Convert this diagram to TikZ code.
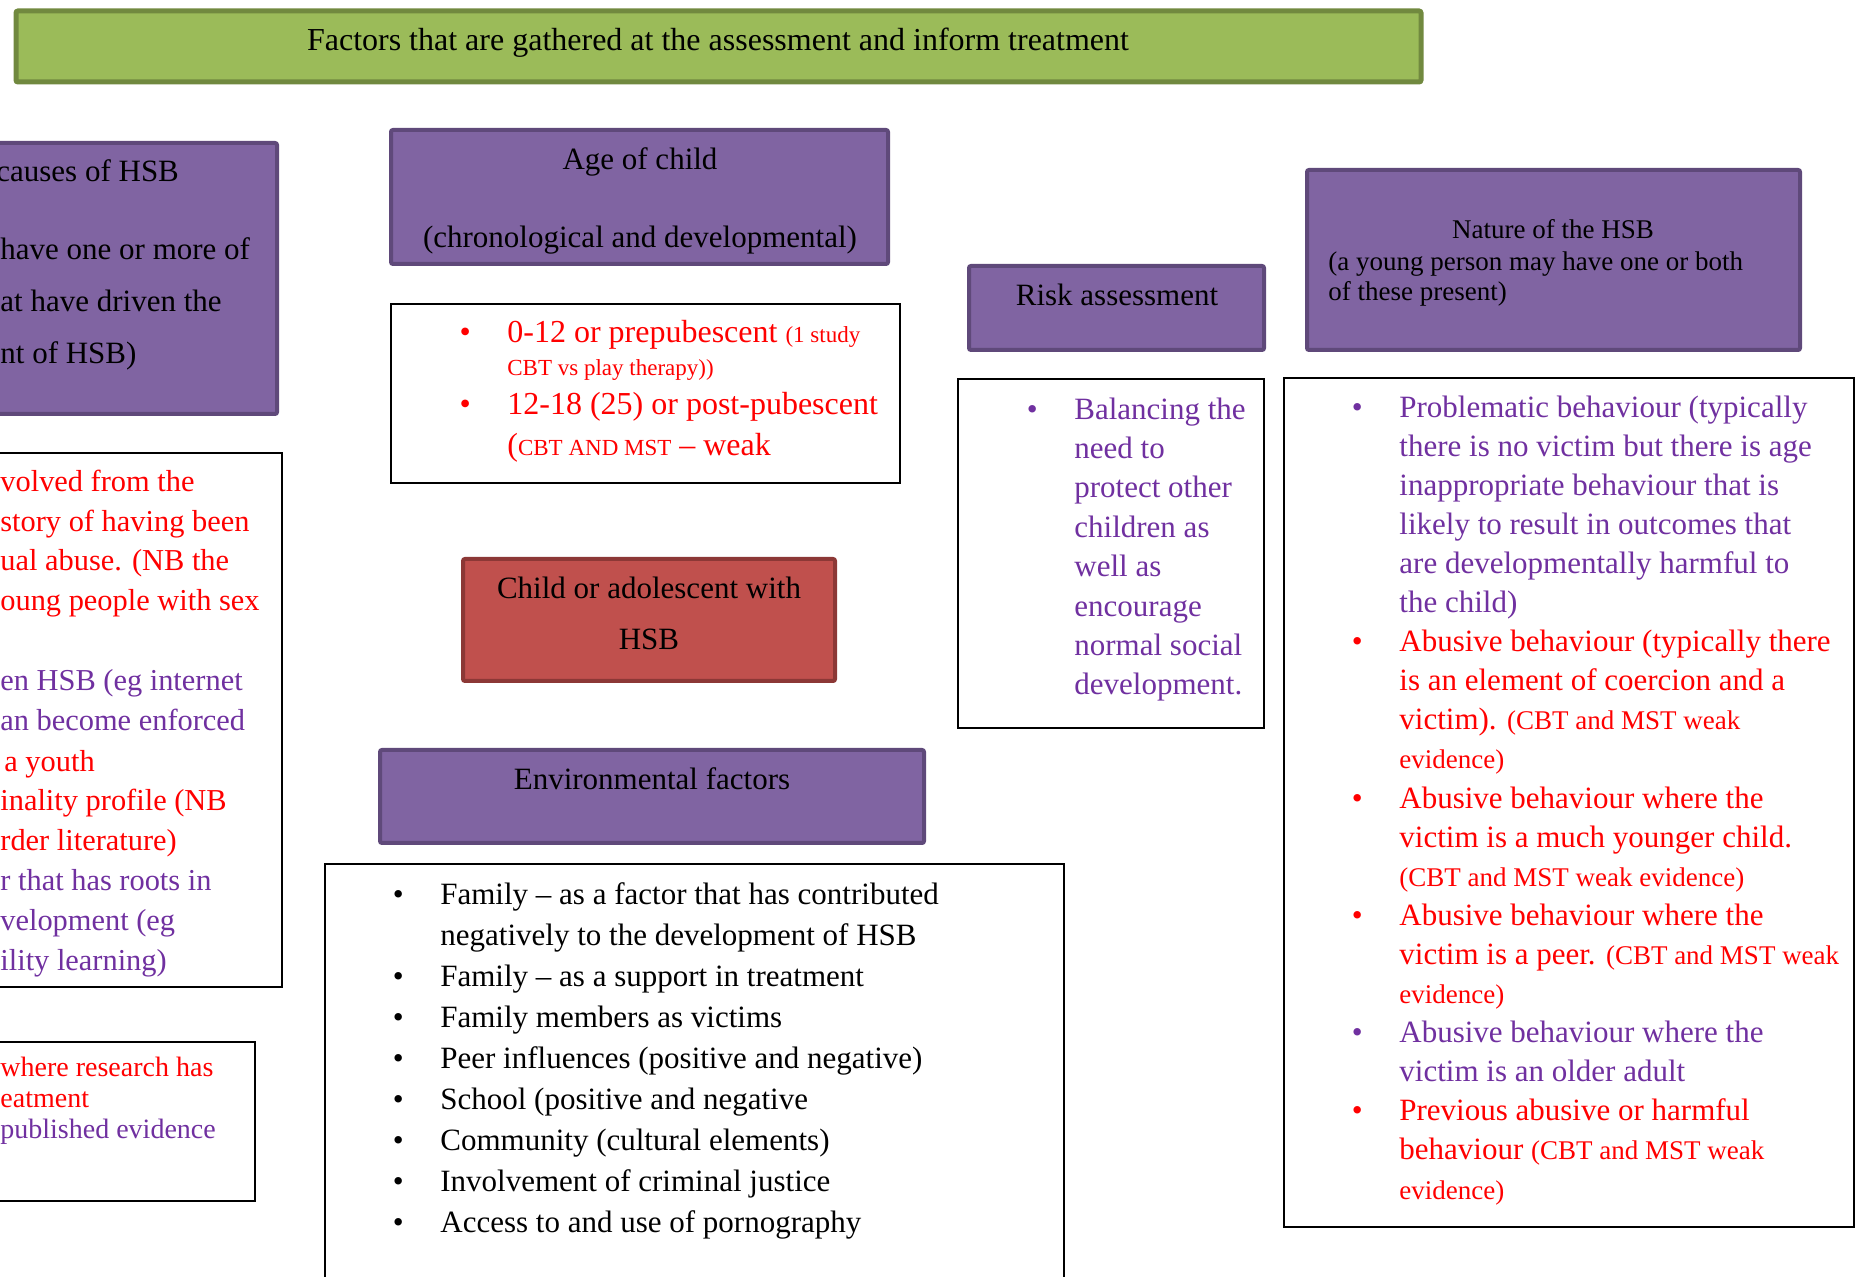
\documentclass[tikz,border=0pt]{standalone}
\usepackage{fontspec}
\setmainfont{Liberation Serif}
\usetikzlibrary{fit}

\definecolor{boxpurple}{HTML}{8064A2}
\definecolor{boxpurpleedge}{HTML}{5F497A}
\definecolor{boxgreen}{HTML}{9BBB59}
\definecolor{boxgreenedge}{HTML}{71893F}
\definecolor{boxred}{HTML}{C0504D}
\definecolor{boxrededge}{HTML}{8C3836}
\definecolor{txtred}{HTML}{FF0000}
\definecolor{txtpurple}{HTML}{7030A0}

\newcommand\bul{\llap{\textbullet\hspace{18.3pt}}}
\newcommand\rd[1]{\textcolor{txtred}{#1}}
\newcommand\pu[1]{\textcolor{txtpurple}{#1}}
\newcommand\sm[1]{{\fontsize{13.5}{16}\selectfont #1}}
\newcommand\tn[1]{{\fontsize{11.5}{14}\selectfont #1}}

\begin{document}
\begin{tikzpicture}[x=0.5pt, y=-0.5pt,
    purplebox/.style={fill=boxpurple, draw=boxpurpleedge, line width=2pt, rounded corners=1pt, inner sep=0pt},
    redbox/.style={fill=boxred, draw=boxrededge, line width=2pt, rounded corners=1pt, inner sep=0pt},
    greenbox/.style={fill=boxgreen, draw=boxgreenedge, line width=2.5pt, rounded corners=1pt, inner sep=0pt},
    whitebox/.style={fill=white, draw=black, line width=1pt, inner sep=0pt},
    txt/.style={inner sep=0pt, align=left, font=\fontsize{15.5}{19.6}\selectfont},
  ]
  \useasboundingbox (0,0) rectangle (1859,1277);
  \clip (0,0) rectangle (1859,1277);

  % boxes
  \node[greenbox, fit={(16,11) (1421,82)}] (titlebox) {};
  \node[purplebox, fit={(-40,143) (277,414)}] (causesbox) {};
  \node[whitebox, fit={(-40,453) (282,987)}] (causeslist) {};
  \node[whitebox, fit={(-40,1042) (255,1201)}] (keybox) {};
  \node[purplebox, fit={(391,130) (888,264)}] (agebox) {};
  \node[whitebox, fit={(391,304) (900,483)}] (agelistbox) {};
  \node[redbox, fit={(463,559) (835,681)}] (childbox) {};
  \node[purplebox, fit={(380,750) (924,843)}] (envbox) {};
  \node[whitebox, fit={(325,864) (1064,1300)}] (envlistbox) {};
  \node[purplebox, fit={(969,266) (1264,350)}] (riskbox) {};
  \node[whitebox, fit={(958,379) (1264,728)}] (risklistbox) {};
  \node[purplebox, fit={(1307,170) (1800,350)}] (naturebox) {};
  \node[whitebox, fit={(1284,378) (1854,1227)}] (naturelistbox) {};

  % title
  \node[txt, anchor=base, font=\fontsize{16}{19.6}\selectfont] (title) at (718,51)
    {Factors that are gathered at the assessment and inform treatment};

  % causes (cut at the left edge)
  \node[txt, anchor=base west, font=\fontsize{15.5}{26}\selectfont] (causes) at (0,364)
    {\hspace*{-2pt}causes of HSB\\[13pt]
     have one or more of\\
     at have driven the\\
     nt of HSB)};
  \node[txt, anchor=base west, font=\fontsize{15.2}{20}\selectfont] (causestext) at (0,971)
    {\rd{volved from the}\\
     \rd{story of having been}\\
     \rd{ual abuse. (NB the}\\
     \rd{oung people with sex}\\
     \\
     \pu{en HSB (eg internet}\\
     \pu{an become enforced}\\
     \rd{\hspace*{2pt}a youth}\\
     \rd{inality profile (NB}\\
     \rd{rder literature)}\\
     \pu{r that has roots in}\\
     \pu{velopment (eg}\\
     \pu{ility learning)}};
  \node[txt, anchor=base west, font=\fontsize{14}{15.5}\selectfont] (keytext) at (0,1138)
    {\rd{where research has}\\
     \rd{eatment}\\
     \pu{published evidence}};

  % age
  \node[txt, anchor=base] (agename) at (640,170) {Age of child};
  \node[txt, anchor=base] (agekind) at (640,248) {(chronological and developmental)};
  \node[txt, anchor=base west, font=\fontsize{16}{19.6}\selectfont] (agelist) at (507,456)
    {\rd{\bul 0-12 or prepubescent \tn{(1 study}}\\[-3pt]
     \rd{\tn{CBT vs play therapy))}}\\
     \rd{\bul 12-18 (25) or post-pubescent}\\[1pt]
     \rd{(\tn{CBT AND MST} – weak}};

  % child
  \node[txt, anchor=base] (childname) at (649,599) {Child or adolescent with};
  \node[txt, anchor=base] (childhsb) at (649,650) {HSB};

  % environment
  \node[txt, anchor=base] (envname) at (652,790) {Environmental factors};
  \node[txt, anchor=base west, font=\fontsize{15.5}{20.45}\selectfont] (envlist) at (440,1232)
    {\bul Family – as a factor that has contributed\\
     negatively to the development of HSB\\
     \bul Family – as a support in treatment\\
     \bul Family members as victims\\
     \bul Peer influences (positive and negative)\\
     \bul School (positive and negative\\
     \bul Community (cultural elements)\\
     \bul Involvement of criminal justice\\
     \bul Access to and use of pornography};

  % risk
  \node[txt, anchor=base] (riskname) at (1117,306) {Risk assessment};
  \node[txt, anchor=base west, font=\fontsize{15.5}{19.7}\selectfont, text=txtpurple] (risklist) at (1074,695)
    {\bul Balancing the\\ need to\\ protect other\\ children as\\ well as\\ encourage\\ normal social\\ development.};

  % nature
  \node[txt, anchor=base, font=\fontsize{13.5}{15}\selectfont] (naturename) at (1553,239) {Nature of the HSB};
  \node[txt, anchor=base west, font=\fontsize{13.5}{15}\selectfont] (naturenote) at (1328,301)
    {(a young person may have one or both\\ of these present)};
  \node[txt, anchor=base west, font=\fontsize{15.5}{19.55}\selectfont] (naturelist) at (1399,1199)
    {\pu{\bul Problematic behaviour (typically}\\
     \pu{there is no victim but there is age}\\
     \pu{inappropriate behaviour that is}\\
     \pu{likely to result in outcomes that}\\
     \pu{are developmentally harmful to}\\
     \pu{the child)}\\
     \rd{\bul Abusive behaviour (typically there}\\
     \rd{is an element of coercion and a}\\
     \rd{victim). \sm{(CBT and MST weak}}\\
     \rd{\sm{evidence)}}\\
     \rd{\bul Abusive behaviour where the}\\
     \rd{victim is a much younger child.}\\
     \rd{\sm{(CBT and MST weak evidence)}}\\
     \rd{\bul Abusive behaviour where the}\\
     \rd{victim is a peer. \sm{(CBT and MST weak}}\\
     \rd{\sm{evidence)}}\\
     \pu{\bul Abusive behaviour where the}\\
     \pu{victim is an older adult}\\
     \rd{\bul Previous abusive or harmful}\\
     \rd{behaviour \sm{(CBT and MST weak}}\\
     \rd{\sm{evidence)}}};
\end{tikzpicture}
\end{document}
